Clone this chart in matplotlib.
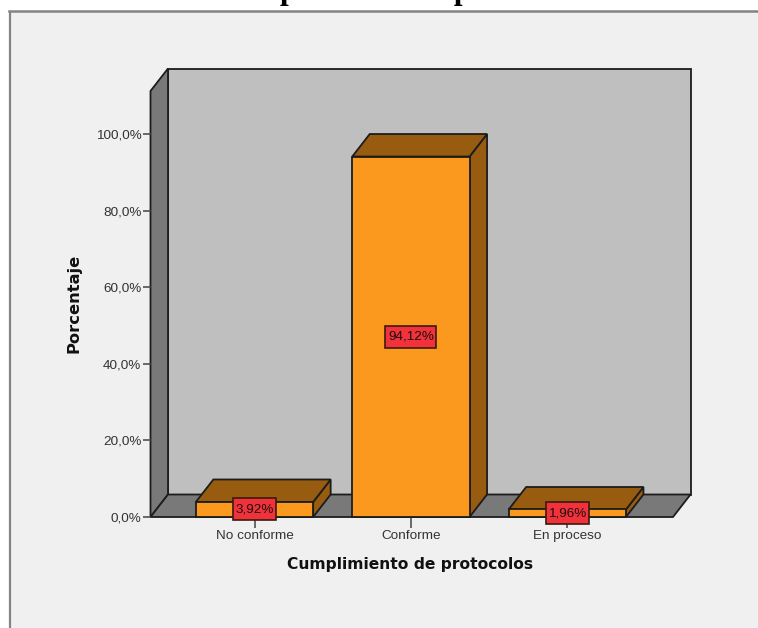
import matplotlib
matplotlib.use("Agg")
import matplotlib.pyplot as plt
from matplotlib.patches import Polygon, Rectangle

# Chart values
categories = ["No conforme", "Conforme", "En proceso"]
percentages = [3.92, 94.12, 1.96]
value_labels = ["3,92%", "94,12%", "1,96%"]
y_ticks = [0, 20, 40, 60, 80, 100]
y_tick_labels = ["0,0%", "20,0%", "40,0%", "60,0%", "80,0%", "100,0%"]

W, H = 758, 628
fig = plt.figure(figsize=(W / 100, H / 100), dpi=100, facecolor="white")

# Panel background behind the plot, with a grey edge on the top and left only
fig.add_artist(Rectangle((9.5 / W, 0), (W - 9.5) / W, (H - 11.5) / H, transform=fig.transFigure,
                         facecolor="#f0f0f0", edgecolor="none", zorder=-3))
fig.add_artist(plt.Line2D([9.5 / W, 9.5 / W], [0, (H - 11.5) / H], color="#848484", lw=1.6, zorder=-2))
fig.add_artist(plt.Line2D([9.0 / W, 1], [(H - 11.0) / H] * 2, color="#848484", lw=1.8, zorder=-2))

# Front plane of the box: pixel extent converted to figure fractions
left, right, bottom, top = 150.5, 673, 517, 91
ax = fig.add_axes([left / W, (H - bottom) / H, (right - left) / W, (bottom - top) / H])
px_per_cat = 156.4
xmin = -(254.5 - left) / px_per_cat
xmax = xmin + (right - left) / px_per_cat
px_per_pct = 3.83
ymax = (bottom - top) / px_per_pct
ax.set_xlim(xmin, xmax)
ax.set_ylim(0, ymax)
ax.patch.set_visible(False)
for s in ax.spines.values():
    s.set_visible(False)

# Receding depth of the box, in data units
DX = 17.5 / px_per_cat
DY = 22.5 / px_per_pct
EDGE = "#1c1c1c"
LW = 1.3


def face(points, color, z, lw=LW, ec=EDGE):
    ax.add_patch(Polygon(points, closed=True, facecolor=color, edgecolor=ec, linewidth=lw,
                         joinstyle="miter", clip_on=False, zorder=z))


# Back wall, side wall and floor
face([(xmin + DX, DY), (xmax + DX, DY), (xmax + DX, ymax + DY), (xmin + DX, ymax + DY)], "#bfbfbf", 1)
face([(xmin, 0), (xmin + DX, DY), (xmin + DX, ymax + DY), (xmin, ymax)], "#797979", 1)
face([(xmin, 0), (xmax, 0), (xmax + DX, DY), (xmin + DX, DY)], "#797979", 1)

# Bars, each as front, top and side faces
bar_w = 0.75
for i, v in enumerate(percentages):
    x0, x1 = i - bar_w / 2, i + bar_w / 2
    z = 2 + (2 - i) * 0.1
    face([(x1, 0), (x1 + DX, DY), (x1 + DX, v + DY), (x1, v)], "#975c0f", z)
    face([(x0, v), (x1, v), (x1 + DX, v + DY), (x0 + DX, v + DY)], "#975c0f", z)
    face([(x0, 0), (x1, 0), (x1, v), (x0, v)], "#fb991e", z + 0.01)

# Value labels centred on the bar height, each on a red box sized from its text
renderer = fig.canvas.get_renderer()
for i, (v, lab) in enumerate(zip(percentages, value_labels)):
    t = ax.text(i, v / 2, lab, ha="center", va="center", fontsize=9.7, family="Liberation Sans",
                color="#1a1012", zorder=6)
    box_w = (t.get_window_extent(renderer).width + 5) / px_per_cat
    box_h = 22 / px_per_pct
    ax.add_patch(Rectangle((i - box_w / 2, v / 2 - box_h / 2), box_w, box_h, facecolor="#f2323a",
                           edgecolor="#3a1a10", linewidth=1.2, clip_on=False, zorder=5))

# Axes ticks and labels
ax.set_xticks(range(len(categories)), categories, fontsize=9.7, family="Liberation Sans", color="#333333")
ax.set_yticks(y_ticks, y_tick_labels, fontsize=9.7, family="Liberation Sans", color="#333333")
ax.tick_params(axis="x", length=8, width=1.1, color="#444444", pad=1.5)
ax.tick_params(axis="y", length=6, width=1.1, color="#444444", pad=0.5)

fig.text(410.5 / W, 1 - 564 / H, "Cumplimiento de protocolos", ha="center", va="center",
         fontsize=11.2, fontweight="bold", family="DejaVu Sans", color="#111111")
fig.text(74 / W, 1 - 303.5 / H, "Porcentaje", ha="center", va="center", rotation=90,
         fontsize=11.7, fontweight="bold", family="DejaVu Sans", color="#111111")

# Title cropped by the upper edge of the image
fig.text(403 / W, 1 + 1.0 / H, "Cumplimiento de protocolos", ha="center", va="baseline",
         fontsize=22.5, fontweight="bold", family="Liberation Serif", color="black", clip_on=False)

fig.savefig("out.png", dpi=100, facecolor="white")
